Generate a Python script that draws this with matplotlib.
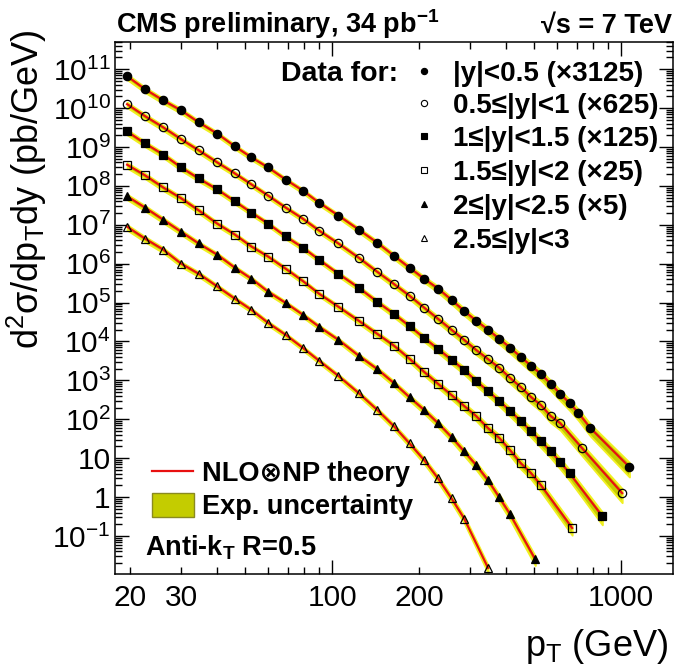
import numpy as np
import matplotlib
matplotlib.use('Agg')
import matplotlib.pyplot as plt
from matplotlib.ticker import FixedLocator, LogLocator, FuncFormatter, NullFormatter
from matplotlib.lines import Line2D
from matplotlib.patches import Rectangle

plt.rcParams['font.family'] = ['Liberation Sans', 'DejaVu Sans']
plt.rcParams['mathtext.fontset'] = 'custom'
plt.rcParams['mathtext.rm'] = 'Liberation Sans'
plt.rcParams['mathtext.it'] = 'Liberation Sans:italic'
plt.rcParams['mathtext.bf'] = 'Liberation Sans:bold'

# bin centres (GeV) and scaled cross sections (pb/GeV)
pt_bins = [19.5, 22.5, 26, 30, 34.5, 40, 46, 52.5, 60, 69, 79, 90, 105, 123.5,
           143, 163.5, 185, 208, 232.5, 258.5, 286, 315, 346, 378.5, 412.5,
           449, 487.5, 527.5, 570, 615]

pt_y1 = pt_bins + [662, 711, 782, 1067]
xs_y1 = [6.6e10, 3.05e10, 1.58e10, 8.7e9, 4.3e9, 2.2e9, 1.04e9, 5.4e8, 2.97e8,
         1.45e8, 7.6e7, 3.7e7, 1.73e7, 7.5e6, 3.47e6, 1.6e6, 7.9e5, 4.1e5,
         2.28e5, 1.18e5, 6.1e4, 3.4e4, 2.0e4, 1.17e4, 6.9e3, 4.0e3, 2.35e3,
         1.45e3, 8.1e2, 4.5e2, 2.6e2, 1.45e2, 59, 5.9]

pt_y2 = pt_bins + [732, 1007]
xs_y2 = [1.26e10, 6.2e9, 3.2e9, 1.58e9, 8.2e8, 4.0e8, 2.09e8, 1.09e8, 5.6e7,
         2.76e7, 1.44e7, 7.1e6, 3.3e6, 1.42e6, 6.2e5, 3.0e5, 1.5e5, 7.4e4,
         3.8e4, 2.0e4, 1.1e4, 6.0e3, 3.5e3, 2.1e3, 1.15e3, 6.7e2, 3.7e2,
         2.3e2, 1.2e2, 79, 18, 1.26]

pt_y3 = pt_bins + [662, 860]
xs_y3 = [2.5e9, 1.23e9, 6.4e8, 2.97e8, 1.55e8, 8.1e7, 4.0e7, 2.05e7, 1.07e7,
         5.0e6, 2.6e6, 1.26e6, 5.5e5, 2.4e5, 1.05e5, 5.1e4, 2.5e4, 1.23e4,
         6.4e3, 3.4e3, 1.86e3, 9.6e2, 5.3e2, 2.95e2, 1.63e2, 90, 49, 27, 15,
         7.9, 4.1, 0.32]

pt_y4 = pt_bins[:28] + [676]
xs_y4 = [3.5e8, 1.86e8, 9.1e7, 4.8e7, 2.34e7, 1.07e7, 5.6e6, 2.76e6, 1.52e6,
         7.4e5, 3.6e5, 1.69e5, 7.8e4, 3.4e4, 1.58e4, 7.8e3, 3.6e3, 1.65e3,
         8.1e2, 4.2e2, 2.2e2, 1.2e2, 59, 33, 16, 7.4, 4.1, 2.0, 0.16]

pt_y5 = pt_bins[:25] + [504]
xs_y5 = [5.4e7, 2.76e7, 1.35e7, 6.6e6, 3.3e6, 1.7e6, 7.9e5, 4.1e5, 1.9e5,
         9.8e4, 4.9e4, 2.4e4, 1.1e4, 4.3e3, 1.96e3, 8.5e2, 3.7e2, 1.73e2, 79,
         35, 15, 6.6, 2.7, 0.98, 0.36, 0.025]

pt_y6 = pt_bins[:21] + [346]
xs_y6 = [8.9e6, 4.4e6, 2.3e6, 1.0e6, 5.5e5, 2.6e5, 1.26e5, 6.5e4, 3.0e4,
         1.48e4, 6.9e3, 3.2e3, 1.3e3, 4.7e2, 1.75e2, 66, 24, 8.9, 3.0, 0.93,
         0.28, 0.015]

labels = ['|y|<0.5 (×3125)', '0.5≤|y|<1 (×625)', '1≤|y|<1.5 (×125)',
          '1.5≤|y|<2 (×25)', '2≤|y|<2.5 (×5)', '2.5≤|y|<3']

# relative experimental uncertainty (band width) vs pT
unc_pt = [20, 50, 100, 200, 400, 700, 1100]
unc_rel = [0.18, 0.14, 0.14, 0.19, 0.27, 0.35, 0.45]

series = [(pt_y1, xs_y1), (pt_y2, xs_y2), (pt_y3, xs_y3),
          (pt_y4, xs_y4), (pt_y5, xs_y5), (pt_y6, xs_y6)]
markers = ['o', 'o', 's', 's', '^', '^']
filled = [True, False, True, False, True, False]
msizes = [6, 6, 5.5, 5.5, 6, 6]

W, H = 677, 670
def fx(x):
    return x / W
def fy(y):
    return 1 - y / H

fig = plt.figure(figsize=(6.77, 6.70), dpi=100)
ax = fig.add_axes([fx(115), fy(574), fx(673) - fx(115), fy(42) - fy(574)])
ax.set_xscale('log')
ax.set_yscale('log')
ax.set_xlim(17.7, 1510)
ax.set_ylim(0.0105, 5e11)

band_col = '#c4cc00'
for (pt, xs) in series:
    pt = np.array(pt)
    xs = np.array(xs)
    rel = np.interp(np.log(pt), np.log(unc_pt), unc_rel)
    ax.fill_between(pt, xs * (1 - rel), xs * (1 + 0.7 * rel), color=band_col,
                    ec='#f0f020', lw=1.4, zorder=2)
for (pt, xs) in series:
    ax.plot(pt, xs, color='#e81010', lw=1.6, zorder=3)
for (pt, xs), m, f, ms in zip(series, markers, filled, msizes):
    ax.plot(pt, xs, ls='none', marker=m, ms=ms, mec='black', mew=0.9,
            mfc='black' if f else 'none', zorder=4)

# axes ticks
ax.xaxis.set_major_locator(FixedLocator([100, 1000]))
ax.xaxis.set_minor_locator(FixedLocator([20, 30, 40, 50, 60, 70, 80, 90,
                                         200, 300, 400, 500, 600, 700, 800, 900]))
ax.xaxis.set_major_formatter(FuncFormatter(lambda v, p: '%d' % v))
ax.xaxis.set_minor_formatter(FuncFormatter(
    lambda v, p: '%d' % v if int(round(v)) in (20, 30, 200) else ''))

def yfmt(v, p):
    e = int(round(np.log10(v)))
    if e == 0:
        return '1'
    if e == 1:
        return '10'
    return r'$\mathregular{10^{%d}}$' % e

ax.yaxis.set_major_locator(LogLocator(base=10, numticks=100))
ax.yaxis.set_minor_locator(LogLocator(base=10, subs=np.arange(2, 10), numticks=100))
ax.yaxis.set_major_formatter(FuncFormatter(yfmt))
ax.yaxis.set_minor_formatter(NullFormatter())

ax.tick_params(which='both', direction='in', top=True, right=True, width=1.0)
ax.tick_params(which='major', length=10)
ax.tick_params(which='minor', length=5)
ax.tick_params(axis='x', which='both', labelsize=21.5, pad=7)
ax.tick_params(axis='y', which='both', labelsize=21.5, pad=3)
for s in ax.spines.values():
    s.set_linewidth(1.1)

# axis titles
fig.text(fx(668), fy(647), r'p$_\mathregular{T}$ (GeV)', fontsize=26,
         ha='right', va='center')
fig.text(fx(27), fy(30), r'd$^\mathregular{2}$σ/dp$_\mathregular{T}$dy (pb/GeV)',
         fontsize=26, rotation=90, ha='center', va='top')

# header
fig.text(fx(116), fy(33), r'CMS preliminary, 34 pb$^{\mathbf{-1}}$',
         fontsize=19.5, fontweight='bold', ha='left', va='baseline')
fig.text(fx(672), fy(33), '√s = 7 TeV', fontsize=19.5, fontweight='bold',
         ha='right', va='baseline')

# data legend
fig.text(fx(398), fy(71), 'Data for:', fontsize=20.5, fontweight='bold',
         ha='right', va='center_baseline')
leg_y = [71, 103, 136, 170, 204, 238]
for yy, lab, m, f in zip(leg_y, labels, markers, filled):
    fig.add_artist(Line2D([fx(424)], [fy(yy)], transform=fig.transFigure,
                          marker=m, ms=4.5, mec='black', mew=0.8,
                          mfc='black' if f else 'none', ls='none'))
    fig.text(fx(453), fy(yy), lab, fontsize=20, fontweight='bold',
             ha='left', va='center_baseline')

# theory / uncertainty legend
fig.add_artist(Line2D([fx(152), fx(193)], [fy(471), fy(471)],
                      transform=fig.transFigure, color='#e81010', lw=1.6))
fig.text(fx(202), fy(471), 'NLO⊗NP theory', fontsize=19.5, fontweight='bold',
         ha='left', va='center_baseline')
fig.add_artist(Rectangle((fx(152), fy(517)), fx(194) - fx(152), fy(493) - fy(517),
                         transform=fig.transFigure, fc=band_col, ec='#8a8a20', lw=1.0))
fig.text(fx(202), fy(504), 'Exp. uncertainty', fontsize=19.5, fontweight='bold',
         ha='left', va='center_baseline')
fig.text(fx(145), fy(545), r'Anti-k$_\mathbf{T}$ R=0.5', fontsize=19.5,
         fontweight='bold', ha='left', va='center_baseline')

fig.savefig('out.png', dpi=100)
